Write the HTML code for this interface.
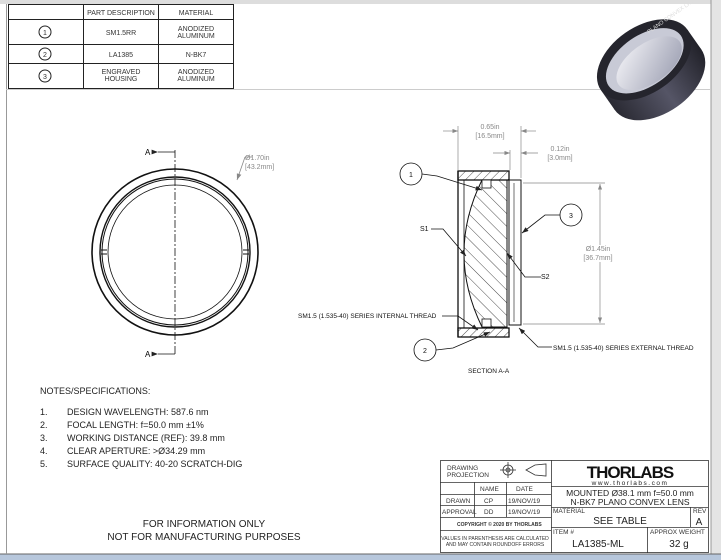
<!DOCTYPE html>
<html><head><style>
body{margin:0;width:721px;height:560px;overflow:hidden;background:#fff;font-family:"Liberation Sans",sans-serif;}
svg{position:absolute;left:0;top:0}
text{font-family:"Liberation Sans",sans-serif;}
</style></head><body>
<svg width="721" height="560" viewBox="0 0 721 560">
<defs>
<pattern id="h" patternUnits="userSpaceOnUse" width="9" height="9" patternTransform="rotate(-45)">
<line x1="0" y1="0" x2="0" y2="9" stroke="#222" stroke-width="0.8"/></pattern>
<pattern id="h2" patternUnits="userSpaceOnUse" width="6" height="6" patternTransform="rotate(45)">
<line x1="0" y1="0" x2="0" y2="6" stroke="#222" stroke-width="0.8"/></pattern>
<marker id="ar" markerWidth="8" markerHeight="6" refX="8" refY="3" orient="auto"><path d="M0,0L8,3L0,6z" fill="#222"/></marker>
<marker id="ag" markerWidth="8" markerHeight="6" refX="8" refY="3" orient="auto"><path d="M0,0L8,3L0,6z" fill="#888"/></marker>
<linearGradient id="bd" x1="0" y1="0" x2="1" y2="0"><stop offset="0" stop-color="#2a2a33"/><stop offset="0.5" stop-color="#555566"/><stop offset="1" stop-color="#22222a"/></linearGradient>
<linearGradient id="in" x1="0" y1="0" x2="1" y2="1"><stop offset="0" stop-color="#f4f4f8"/><stop offset="1" stop-color="#9a9db0"/></linearGradient>
</defs>
<!-- page chrome -->
<rect x="0" y="0" width="721" height="4" fill="#ddd"/>
<rect x="711" y="0" width="10" height="560" fill="#e4e4e4"/>
<line x1="711" y1="0" x2="711" y2="556" stroke="#999"/>
<rect x="0" y="554" width="721" height="6" fill="#b7c7dc"/>
<line x1="0" y1="554" x2="721" y2="554" stroke="#666"/>
<line x1="6.5" y1="4" x2="6.5" y2="554" stroke="#999"/>
<line x1="6" y1="89.5" x2="711" y2="89.5" stroke="#ccc"/>
<!-- parts table -->
<g stroke="#222" stroke-width="1" fill="none">
<rect x="8.5" y="4.5" width="225" height="84"/>
<line x1="8" y1="19.5" x2="233" y2="19.5"/>
<line x1="8" y1="44.5" x2="233" y2="44.5"/>
<line x1="8" y1="63.5" x2="233" y2="63.5"/>
<line x1="83.5" y1="4" x2="83.5" y2="89"/>
<line x1="158.5" y1="4" x2="158.5" y2="89"/>
<circle cx="45" cy="32" r="6"/><circle cx="45" cy="54" r="6"/><circle cx="45" cy="76" r="6"/>
</g>
<g font-size="7" fill="#333" text-anchor="middle">
<text x="121" y="15">PART DESCRIPTION</text><text x="196" y="15">MATERIAL</text>
<text x="45" y="35">1</text><text x="45" y="57">2</text><text x="45" y="79">3</text>
<text x="121" y="35">SM1.5RR</text><text x="196" y="31">ANODIZED</text><text x="196" y="38">ALUMINUM</text>
<text x="121" y="57">LA1385</text><text x="196" y="57">N-BK7</text>
<text x="121" y="74">ENGRAVED</text><text x="121" y="81">HOUSING</text>
<text x="196" y="74">ANODIZED</text><text x="196" y="81">ALUMINUM</text>
</g>
<!-- photo: tilted ring -->
<g transform="translate(653 67) scale(1.1) translate(-640 -75)">
<g transform="rotate(-35 640 80)">
<ellipse cx="640" cy="88" rx="48" ry="30" fill="url(#bd)"/>
<rect x="592" y="66" width="96" height="22" fill="url(#bd)"/>
<ellipse cx="640" cy="66" rx="48" ry="30" fill="#25252d"/>
<ellipse cx="640" cy="67" rx="40" ry="23" fill="#c8cad6"/>
<ellipse cx="642" cy="71" rx="34" ry="18" fill="url(#in)"/>
</g>
<text x="660" y="28" font-size="5" fill="#ddd" transform="rotate(-35 660 28)" text-anchor="middle">PLANO CONVEX LA1385</text>
</g>
<!-- front view -->
<g fill="none" stroke="#111">
<circle cx="175" cy="252" r="83" stroke-width="1.6"/>
<circle cx="175" cy="252" r="75" stroke-width="1.4"/>
<circle cx="175" cy="252" r="73" stroke-width="1"/>
<circle cx="175" cy="252" r="67" stroke-width="0.8"/>
<line x1="175" y1="150" x2="175" y2="355" stroke-width="0.8" stroke-dasharray="8,2,2,2"/>
<line x1="158" y1="152" x2="175" y2="152" stroke-width="0.8" marker-start="url(#ar)"/>
<line x1="158" y1="354" x2="175" y2="354" stroke-width="0.8" marker-start="url(#ar)"/>
<line x1="101" y1="250" x2="107" y2="250"/><line x1="101" y1="254" x2="107" y2="254"/>
<line x1="243" y1="250" x2="249" y2="250"/><line x1="243" y1="254" x2="249" y2="254"/>
<path d="M245,157 L237,180" stroke="#888" stroke-width="0.8" marker-end="url(#ag)"/>
<line x1="245" y1="157" x2="252" y2="157" stroke="#888" stroke-width="0.8"/>
</g>
<text x="145" y="155" font-size="8">A</text><text x="145" y="357" font-size="8">A</text>
<text x="245" y="160" font-size="7" fill="#888">Ø1.70in</text>
<text x="245" y="169" font-size="7" fill="#888">[43.2mm]</text>
<!-- section view -->
<g stroke="#111" fill="none">
<rect x="458" y="171" width="51" height="9" fill="url(#h2)" stroke-width="1.3"/>
<rect x="458" y="328" width="51" height="9" fill="url(#h2)" stroke-width="1.3"/>
<line x1="458" y1="171" x2="458" y2="337" stroke-width="1.3"/>
<line x1="464" y1="180" x2="464" y2="328" stroke-width="0.8"/>
<path d="M482,180 Q446,253 482,327 L507,327 L507,180 Z" fill="url(#h)" stroke-width="1"/>
<rect x="482" y="180" width="9" height="8" fill="#fff" stroke-width="0.8"/>
<rect x="482" y="319" width="9" height="8" fill="#fff" stroke-width="0.8"/>
<rect x="509" y="180" width="12" height="145" stroke-width="1"/>
<line x1="514" y1="183" x2="514" y2="322" stroke-width="0.6"/>
<line x1="507" y1="180" x2="509" y2="180"/>
</g>
<!-- dimensions -->
<g stroke="#888" stroke-width="0.7" fill="none">
<line x1="458" y1="126" x2="458" y2="170"/><line x1="521" y1="126" x2="521" y2="178"/>
<line x1="510" y1="150" x2="510" y2="170"/>
<line x1="443" y1="131" x2="458" y2="131" marker-end="url(#ag)"/>
<line x1="536" y1="131" x2="521" y2="131" marker-end="url(#ag)"/>
<line x1="493" y1="153" x2="510" y2="153" marker-end="url(#ag)"/>
<line x1="538" y1="153" x2="521" y2="153" marker-end="url(#ag)"/>
<line x1="523" y1="183" x2="605" y2="183"/><line x1="523" y1="324" x2="605" y2="324"/>
<line x1="600" y1="245" x2="600" y2="184" marker-end="url(#ag)"/>
<line x1="600" y1="262" x2="600" y2="323" marker-end="url(#ag)"/>
</g>
<g font-size="7" fill="#888" text-anchor="middle">
<text x="490" y="129">0.65in</text><text x="490" y="138">[16.5mm]</text>
<text x="560" y="151">0.12in</text><text x="560" y="160">[3.0mm]</text>
<text x="598" y="251">Ø1.45in</text><text x="598" y="260">[36.7mm]</text>
</g>
<!-- leaders -->
<g stroke="#111" stroke-width="0.8" fill="none">
<circle cx="411" cy="174" r="11"/><circle cx="571" cy="215" r="11"/><circle cx="425" cy="350" r="11"/>
<path d="M422,174 L437,176 L482,190" marker-end="url(#ar)"/>
<path d="M560,215 L545,215 L522,233" marker-end="url(#ar)"/>
<path d="M436,350 L453,348 L490,332" marker-end="url(#ar)"/>
<path d="M431,229 L443,229 L466,256" marker-end="url(#ar)"/>
<path d="M541,277 L525,277 L507,253" marker-end="url(#ar)"/>
<path d="M442,316 L458,316 L478,330" marker-end="url(#ar)"/>
<path d="M552,347 L538,347 L519,328" marker-end="url(#ar)"/>
</g>
<g font-size="7" fill="#111">
<text x="411" y="177" text-anchor="middle">1</text><text x="571" y="218" text-anchor="middle">3</text><text x="425" y="353" text-anchor="middle">2</text>
<text x="420" y="231">S1</text><text x="541" y="279">S2</text>
<text x="298" y="318" font-size="6.5">SM1.5 (1.535-40) SERIES INTERNAL THREAD</text>
<text x="553" y="350" font-size="6.5">SM1.5 (1.535-40) SERIES EXTERNAL THREAD</text>
<text x="468" y="373" font-size="6.5">SECTION A-A</text>
</g>
<!-- notes -->
<g font-size="9" fill="#222">
<text x="40" y="394">NOTES/SPECIFICATIONS:</text>
<text x="40" y="415">1.</text><text x="67" y="415">DESIGN WAVELENGTH: 587.6 nm</text>
<text x="40" y="428">2.</text><text x="67" y="428">FOCAL LENGTH: f=50.0 mm ±1%</text>
<text x="40" y="441">3.</text><text x="67" y="441">WORKING DISTANCE (REF): 39.8 mm</text>
<text x="40" y="454">4.</text><text x="67" y="454">CLEAR APERTURE: &gt;Ø34.29 mm</text>
<text x="40" y="467">5.</text><text x="67" y="467">SURFACE QUALITY: 40-20 SCRATCH-DIG</text>
</g>
<g font-size="10" fill="#222" text-anchor="middle">
<text x="204" y="527">FOR INFORMATION ONLY</text>
<text x="204" y="540">NOT FOR MANUFACTURING PURPOSES</text>
</g>
<!-- title block -->
<g stroke="#333" stroke-width="0.8" fill="none">
<rect x="440.5" y="460.5" width="268" height="92"/>
<line x1="551.5" y1="460" x2="551.5" y2="553"/>
<line x1="440" y1="482.5" x2="551" y2="482.5"/>
<line x1="440" y1="494.5" x2="551" y2="494.5"/>
<line x1="440" y1="505.5" x2="551" y2="505.5"/>
<line x1="440" y1="517.5" x2="551" y2="517.5"/>
<line x1="440" y1="530.5" x2="551" y2="530.5"/>
<line x1="474.5" y1="482" x2="474.5" y2="517"/>
<line x1="506.5" y1="482" x2="506.5" y2="517"/>
<line x1="551" y1="486.5" x2="708" y2="486.5"/>
<line x1="551" y1="507.5" x2="708" y2="507.5"/>
<line x1="551" y1="527.5" x2="708" y2="527.5"/>
<line x1="690.5" y1="507" x2="690.5" y2="527"/>
<line x1="647.5" y1="527" x2="647.5" y2="553"/>
<circle cx="508" cy="470" r="5"/><circle cx="508" cy="470" r="2"/>
<line x1="500" y1="470" x2="516" y2="470"/><line x1="508" y1="462" x2="508" y2="478"/>
<path d="M526,470 L535,465 L546,464 L546,476 L535,475 Z"/>
</g>
<g fill="#333" font-size="6.5">
<text x="447" y="470">DRAWING</text><text x="447" y="477">PROJECTION</text>
<text x="480" y="491">NAME</text><text x="516" y="491">DATE</text>
<text x="446" y="503">DRAWN</text><text x="484" y="503">CP</text><text x="508" y="503">19/NOV/19</text>
<text x="442" y="514">APPROVAL</text><text x="484" y="514">DD</text><text x="508" y="514">19/NOV/19</text>
<text x="457" y="526" font-size="5" font-weight="bold">COPYRIGHT © 2020 BY THORLABS</text>
<text x="495" y="540" font-size="5" text-anchor="middle">VALUES IN PARENTHESIS ARE CALCULATED</text>
<text x="495" y="546" font-size="5" text-anchor="middle">AND MAY CONTAIN ROUNDOFF ERRORS</text>
<text x="553" y="513">MATERIAL</text><text x="693" y="513">REV</text>
<text x="553" y="534">ITEM #</text><text x="650" y="534">APPROX WEIGHT</text>
</g>
<text x="630" y="478" font-size="17" font-weight="bold" text-anchor="middle" fill="#111" letter-spacing="-1">THORLABS</text>
<text x="630" y="485" font-size="6.5" text-anchor="middle" fill="#222" letter-spacing="1.5">www.thorlabs.com</text>
<g fill="#222" text-anchor="middle">
<text x="630" y="496" font-size="8.5">MOUNTED Ø38.1 mm f=50.0 mm</text>
<text x="630" y="505" font-size="8.5">N-BK7 PLANO CONVEX LENS</text>
<text x="620" y="524" font-size="10">SEE TABLE</text>
<text x="699" y="525" font-size="10">A</text>
<text x="598" y="547" font-size="10">LA1385-ML</text>
<text x="679" y="547" font-size="10">32 g</text>
</g>
</svg>
</body></html>
